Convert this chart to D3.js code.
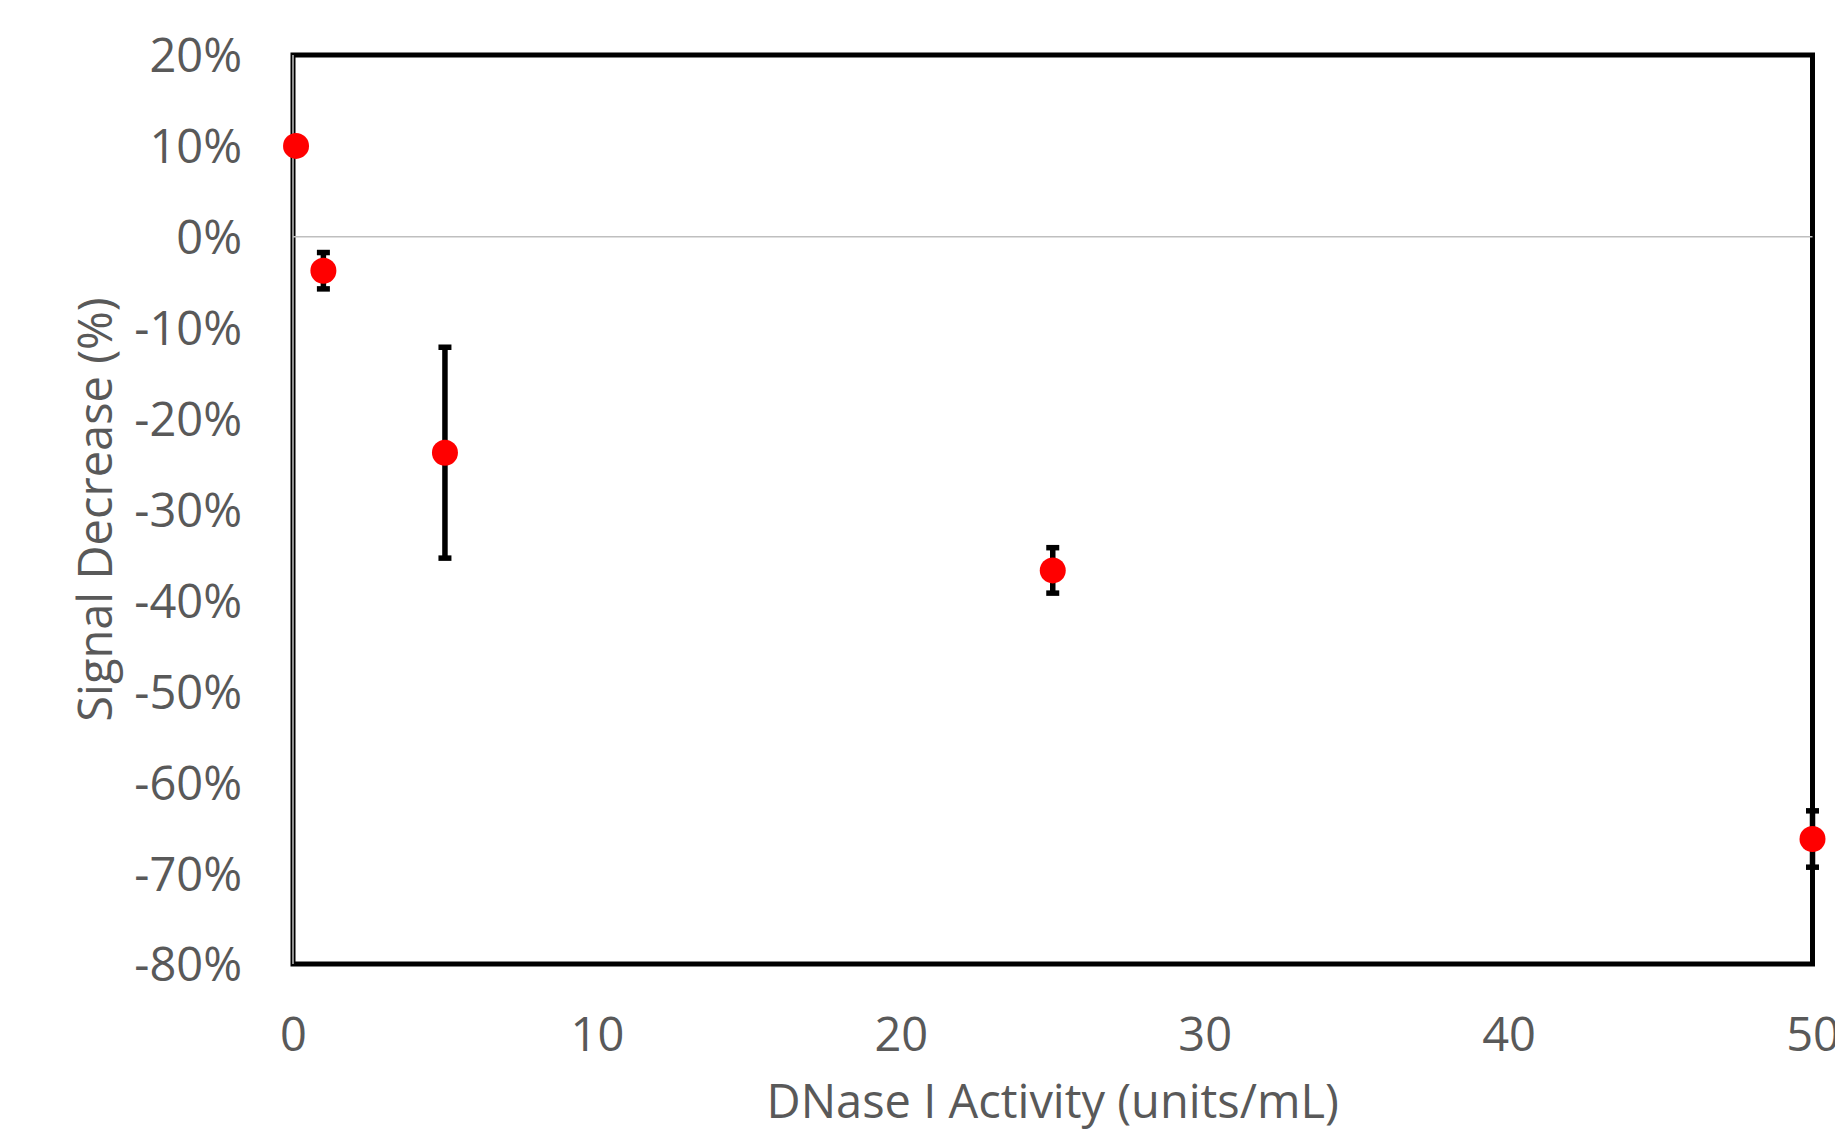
<!DOCTYPE html>
<html>
<head>
<meta charset="utf-8">
<script src="https://cdn.jsdelivr.net/npm/d3@7"></script>
<style>
  html, body { margin: 0; padding: 0; background: #fff; }
  svg { display: block; }
  text { font-family: "Open Sans", "Liberation Sans", sans-serif; fill: #595959; }
</style>
</head>
<body>
<svg id="chart" width="1835" height="1133"></svg>
<script>
// ---- data ----
const activity = [0.1, 1, 5, 25, 50];                 // DNase I activity (units/mL)
const signalDecrease = [0.10, -0.0373, -0.2375, -0.367, -0.6625];
const errorValues = [0, 0.020, 0.116, 0.025, 0.031];
const xTicks = [0, 10, 20, 30, 40, 50];
const yTicks = [0.2, 0.1, 0, -0.1, -0.2, -0.3, -0.4, -0.5, -0.6, -0.7, -0.8];
const xTitle = "DNase I Activity (units/mL)";
const yTitle = "Signal Decrease (%)";

const points = activity.map((x, i) => ({ x, y: signalDecrease[i], e: errorValues[i] }));

// ---- layout ----
const m = { left: 293, right: 1812.5, top: 55, bottom: 964 };
const FS = 47;

const svg = d3.select("#chart");

const x = d3.scaleLinear().domain([0, 50]).range([m.left, m.right]);
const y = d3.scaleLinear().domain([-0.8, 0.2]).range([m.bottom, m.top]);

const pct = v => {
  const s = Math.round(v * 100);
  return (s < 0 ? "-" + Math.abs(s) : String(s)) + "%";
};

// frame
svg.append("rect")
  .attr("x", m.left).attr("y", m.top)
  .attr("width", m.right - m.left).attr("height", m.bottom - m.top)
  .attr("fill", "none").attr("stroke", "#000").attr("stroke-width", 5);

// horizontal axis line at 0
svg.append("line")
  .attr("x1", m.left).attr("x2", m.right)
  .attr("y1", y(0)).attr("y2", y(0))
  .attr("stroke", "#bfbfbf").attr("stroke-width", 1.5);

// vertical axis line at x=0
svg.append("line")
  .attr("x1", x(0)).attr("x2", x(0))
  .attr("y1", m.top).attr("y2", m.bottom)
  .attr("stroke", "#bfbfbf").attr("stroke-width", 1.5);

// y axis labels
const yAxis = d3.axisLeft(y).tickValues(yTicks).tickFormat(pct).tickSize(0).tickPadding(0);
const gy = svg.append("g").attr("transform", `translate(${242},0)`).call(yAxis);
gy.select(".domain").remove();
gy.selectAll("text")
  .attr("font-size", FS)
  .attr("font-family", '"Open Sans", sans-serif')
  .attr("fill", "#595959")
  .attr("dy", "0.36em")
  .attr("x", 0);

// x axis labels
const xAxis = d3.axisBottom(x).tickValues(xTicks).tickFormat(d3.format("d")).tickSize(0).tickPadding(0);
const gx = svg.append("g").attr("transform", `translate(0,${1051})`).call(xAxis);
gx.select(".domain").remove();
gx.selectAll("text")
  .attr("font-size", FS)
  .attr("font-family", '"Open Sans", sans-serif')
  .attr("fill", "#595959")
  .attr("dy", 0)
  .attr("y", 0);

// titles
svg.append("text")
  .attr("x", (m.left + m.right) / 2).attr("y", 1118)
  .attr("text-anchor", "middle")
  .attr("font-size", FS)
  .text(xTitle);

svg.append("text")
  .attr("transform", `translate(112,${(m.top + m.bottom) / 2}) rotate(-90)`)
  .attr("text-anchor", "middle")
  .attr("font-size", FS)
  .text(yTitle);

// error bars
const eb = svg.append("g");
const capHalf = 6.5;
points.filter(d => d.e > 0).forEach(d => {
  eb.append("line")
    .attr("x1", x(d.x)).attr("x2", x(d.x))
    .attr("y1", y(d.y + d.e)).attr("y2", y(d.y - d.e))
    .attr("stroke", "#000").attr("stroke-width", 5.5);
  [d.y + d.e, d.y - d.e].forEach(v => {
    eb.append("line")
      .attr("x1", x(d.x) - capHalf).attr("x2", x(d.x) + capHalf)
      .attr("y1", y(v)).attr("y2", y(v))
      .attr("stroke", "#000").attr("stroke-width", 5.5);
  });
});

// markers
svg.append("g").selectAll("circle")
  .data(points).join("circle")
  .attr("cx", d => x(d.x)).attr("cy", d => y(d.y))
  .attr("r", 13)
  .attr("fill", "#ff0000");
</script>
</body>
</html>
